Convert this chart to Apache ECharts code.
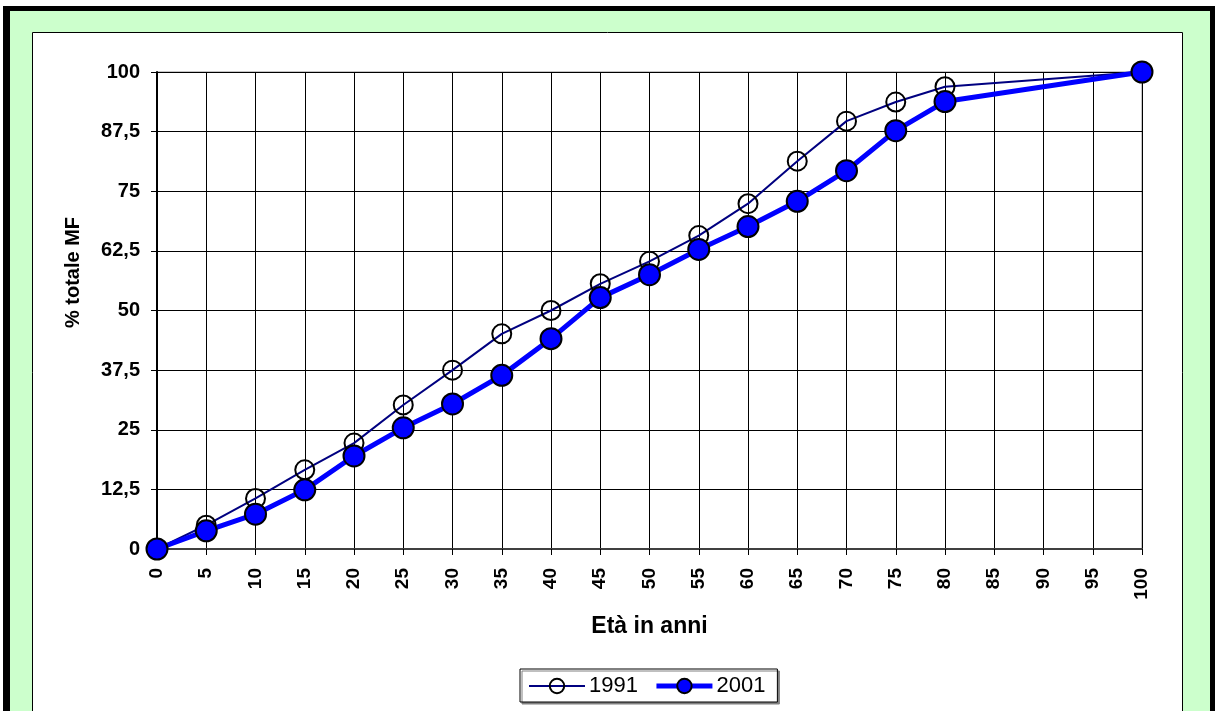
<!DOCTYPE html>
<html>
<head>
<meta charset="utf-8">
<script src="https://cdn.jsdelivr.net/npm/echarts@6/dist/echarts.min.js"></script>
<style>
html,body{margin:0;padding:0;background:#fff;}
#chart{width:1215px;height:711px;}
</style>
</head>
<body>
<div id="chart"></div>
<script>
var ages = [0, 5, 10, 15, 20, 25, 30, 35, 40, 45, 50, 55, 60, 65, 70, 75, 80, 100];
var values1991 = [0, 5.0, 10.6, 16.6, 22.2, 30.2, 37.5, 45.1, 50.0, 55.6, 60.3, 65.7, 72.4, 81.3, 89.7, 93.7, 96.9, 100];
var values2001 = [0, 3.8, 7.3, 12.4, 19.5, 25.4, 30.4, 36.4, 44.1, 52.7, 57.5, 62.8, 67.6, 72.9, 79.3, 87.7, 93.8, 100];
var seriesNames = ['1991', '2001'];
var xTitle = 'Età in anni';
var yTitle = '% totale MF';

function pairs(xs, ys) {
  return xs.map(function (x, i) { return [x, ys[i]]; });
}

var FONT = '"Liberation Sans", Arial, sans-serif';
var chart = echarts.init(document.getElementById('chart'), null, {renderer: 'canvas'});
chart.setOption({
  animation: false,
  backgroundColor: '#ffffff',
  textStyle: {fontFamily: FONT},
  graphic: {
    elements: [
      {type: 'rect', z: -30, silent: true, shape: {x: 3, y: 6, width: 1215, height: 720}, style: {fill: '#000000'}},
      {type: 'rect', z: -29, silent: true, shape: {x: 10, y: 11, width: 1200, height: 720}, style: {fill: '#CCFFCC'}},
      {type: 'rect', z: -28, silent: true, shape: {x: 32.5, y: 32.5, width: 1150, height: 720}, style: {fill: '#ffffff', stroke: '#000000', lineWidth: 1}}
    ]
  },
  grid: {
    left: 157, right: 73, top: 72, bottom: 162,
    show: true, borderColor: '#8c8c8c', borderWidth: 1, backgroundColor: 'transparent'
  },
  legend: {
    data: [
      {name: seriesNames[0], lineStyle: {width: 2, color: '#000080'}},
      {name: seriesNames[1], lineStyle: {width: 5, color: '#0000FF'}}
    ],
    left: 520, top: 669,
    padding: [6, 12, 5, 8],
    itemGap: 16,
    itemWidth: 56, itemHeight: 18,
    backgroundColor: '#ffffff',
    borderColor: '#000000', borderWidth: 1,
    shadowColor: '#808080', shadowOffsetX: 2, shadowOffsetY: 2, shadowBlur: 0,
    textStyle: {fontSize: 22, color: '#000', fontFamily: FONT, padding: [0, 0, 0, -1]}
  },
  xAxis: {
    type: 'value', min: 0, max: 100, interval: 5,
    name: xTitle, nameLocation: 'middle', nameGap: 66,
    nameTextStyle: {fontSize: 23, fontWeight: 'bold', color: '#000', fontFamily: FONT},
    axisLine: {show: true, lineStyle: {color: '#404040', width: 2}},
    axisTick: {show: true, length: 6, lineStyle: {color: '#000'}},
    axisLabel: {rotate: 90, fontSize: 19, fontWeight: 'bold', color: '#000', margin: 19, fontFamily: FONT},
    splitLine: {show: true, lineStyle: {color: '#000', width: 1}}
  },
  yAxis: {
    type: 'value', min: 0, max: 100, interval: 12.5,
    name: yTitle, nameLocation: 'middle', nameGap: 74,
    nameTextStyle: {fontSize: 20, fontWeight: 'bold', color: '#000', fontFamily: FONT, padding: [0, 0, 0, 76]},
    axisLine: {show: true, lineStyle: {color: '#000', width: 2}},
    axisTick: {show: true, length: 6, inside: false, lineStyle: {color: '#000'}},
    axisLabel: {fontSize: 20, fontWeight: 'bold', color: '#000', margin: 17, fontFamily: FONT,
      formatter: function (v) { return String(v).replace('.', ','); }},
    splitLine: {show: true, lineStyle: {color: '#000', width: 1}}
  },
  series: [
    {
      name: seriesNames[0], type: 'line', data: pairs(ages, values1991),
      symbol: 'circle', symbolSize: 19,
      lineStyle: {color: '#000080', width: 2},
      itemStyle: {color: 'rgba(255,255,255,0)', borderColor: '#000000', borderWidth: 2},
      z: 3
    },
    {
      name: seriesNames[1], type: 'line', data: pairs(ages, values2001),
      symbol: 'circle', symbolSize: 21,
      lineStyle: {color: '#0000FF', width: 5},
      itemStyle: {color: '#0000FF', borderColor: '#000000', borderWidth: 2},
      z: 4
    }
  ]
});
</script>
</body>
</html>
